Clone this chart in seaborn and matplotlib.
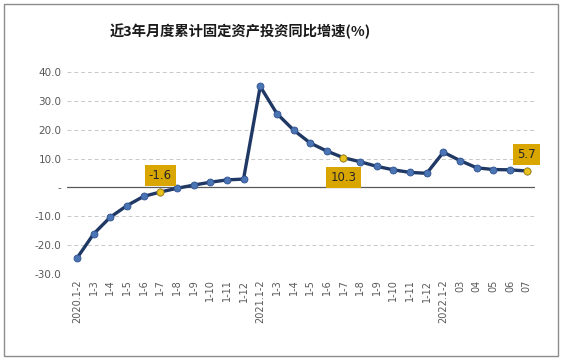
import matplotlib
matplotlib.use('Agg')
import matplotlib.pyplot as plt
import seaborn as sns
import pandas as pd
from matplotlib.patches import Rectangle
from matplotlib.ticker import FuncFormatter

# 月度累计固定资产投资同比增速 (%)
periods = ['2020.1-2', '1-3', '1-4', '1-5', '1-6', '1-7', '1-8', '1-9', '1-10', '1-11', '1-12',
           '2021.1-2', '1-3', '1-4', '1-5', '1-6', '1-7', '1-8', '1-9', '1-10', '1-11', '1-12',
           '2022.1-2', '03', '04', '05', '06', '07']
growth = [-24.5, -16.1, -10.3, -6.3, -3.1, -1.6, -0.3, 0.8, 1.8, 2.6, 2.9,
          35.0, 25.6, 19.9, 15.4, 12.6, 10.3, 8.9, 7.3, 6.1, 5.2, 4.9,
          12.2, 9.3, 6.8, 6.2, 6.1, 5.7]
# highlighted points (index, label offset in points)
highlight = [5, 16, 27]
label_offsets = [(0, 12), (0, -14), (0, 12)]

df = pd.DataFrame({'x': range(len(periods)), 'y': growth})

sns.set_style('white')
plt.rcParams['font.family'] = ['Noto Sans CJK SC', 'DejaVu Sans']

fig = plt.figure(figsize=(5.63, 3.62), dpi=100)
ax = fig.add_axes([67 / 563, 1 - 274 / 362, (535 - 67) / 563, (274 - 72) / 362])

sns.lineplot(data=df, x='x', y='y', ax=ax, color='#1F3864', linewidth=2.4,
             marker='o', markersize=5, markerfacecolor='#4A74B4',
             markeredgecolor='#2F528F', markeredgewidth=0.6, zorder=3)

hl = df.iloc[highlight]
ax.plot(hl['x'], hl['y'], 'o', markersize=5, markerfacecolor='#E8C020',
        markeredgecolor='#B08A00', markeredgewidth=0.6, zorder=4)

for i, off in zip(highlight, label_offsets):
    ax.annotate(f'{growth[i]:.1f}', (i, growth[i]), textcoords='offset points',
                xytext=off, ha='center', va='center', fontsize=8.5, color='#262626',
                family='DejaVu Sans',
                bbox=dict(boxstyle='square,pad=0.35', fc='#D9A600', ec='none'), zorder=5)

ax.axhline(0, color='#595959', linewidth=0.9, zorder=2)
ax.set_ylim(-30, 40)
ax.set_yticks(range(-30, 41, 10))
ax.yaxis.set_major_formatter(FuncFormatter(lambda v, p: '-' if v == 0 else f'{v:.1f}'))
ax.set_xlim(-0.6, 27.5)
ax.set_xticks(range(len(periods)))
ax.set_xticklabels(periods, rotation=90, family='DejaVu Sans')
ax.tick_params(axis='both', length=0, labelsize=7, colors='#595959', pad=4)
for lbl in ax.get_yticklabels():
    lbl.set_family('DejaVu Sans')
    lbl.set_fontsize(7.5)
ax.yaxis.grid(True, linestyle=(0, (4, 3)), color='#C8C8C8', linewidth=0.7)
ax.set_axisbelow(True)
for s in ax.spines.values():
    s.set_visible(False)
ax.set_xlabel('')
ax.set_ylabel('')

fig.text(240 / 563, 1 - 31 / 362, '近3年月度累计固定资产投资同比增速(%)', ha='center', va='center',
         fontsize=10.3, fontweight='bold', color='#1a1a1a')

fig.add_artist(Rectangle((4 / 563, 1 - 356 / 362), 554 / 563, 352 / 362,
                         transform=fig.transFigure, fill=False, ec='#8C8C8C', lw=1))

fig.savefig('out.png', dpi=100)
